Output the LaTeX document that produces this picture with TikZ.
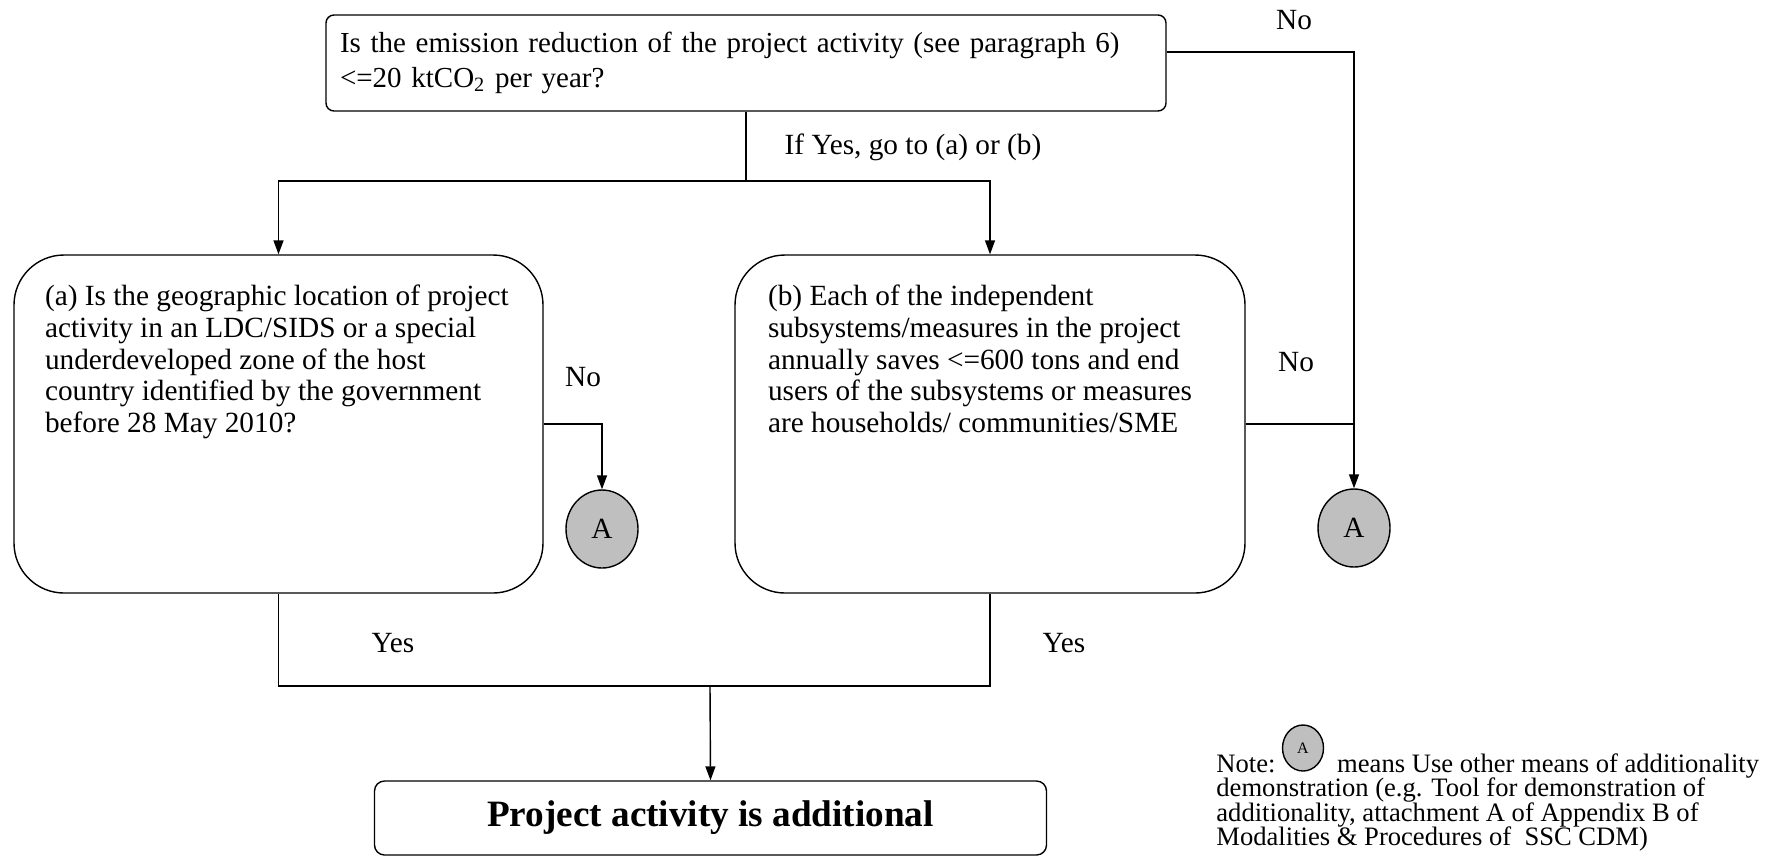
\documentclass[tikz,border=0pt]{standalone}
\usepackage{fontspec}
\setmainfont{Liberation Serif}
\usetikzlibrary{arrows.meta, shapes.geometric}

\begin{document}
\begin{tikzpicture}[
    x=0.5pt, y=-0.5pt,
    every node/.style={font=\fontsize{14.65}{15.85}\selectfont, inner sep=0pt},
    question/.style={draw, rounded corners=4pt, line width=0.7pt, inner xsep=7pt, text width=406pt, minimum height=48pt, align=left, font=\fontsize{14.5}{17.5}\selectfont},
    decision/.style={draw, rounded corners=25pt, line width=0.7pt, inner ysep=15pt},
    connector/.style={draw, ellipse, fill=gray!50, line width=0.7pt, minimum width=36pt, minimum height=39pt},
    result/.style={draw, rounded corners=5pt, line width=0.7pt, minimum width=336pt, minimum height=37pt, font=\fontsize{18.6}{21}\selectfont\bfseries},
    flow/.style={line width=0.7pt},
    arrow/.style={flow, -{Triangle[length=7pt, width=5pt]}}
    ]
  \useasboundingbox (0,0) rectangle (1775,864);

  % questions
  \node[question] (topq) at (746,63) {Is the emission reduction of the project activity (see paragraph 6)\\
    <=20 ktCO\textsubscript{2} per year?};
  \node[decision, inner xsep=15.5pt] (boxa) at (278.5,424) {\parbox[c][139pt][t]{233.5pt}{\raggedright
    (a) Is the geographic location of project\\
    activity in an LDC/SIDS or a special\\
    underdeveloped zone of the host\\
    country identified by the government\\
    before 28 May 2010?}};
  \node[decision, inner xsep=16.5pt] (boxb) at (990,424) {\parbox[c][139pt][t]{222pt}{\raggedright
    (b) Each of the independent\\
    subsystems/measures in the project\\
    annually saves <=600 tons and end\\
    users of the subsystems or measures\\
    are households/ communities/SME}};

  % connectors and result
  \node[connector] (circA) at (602,529) {A};
  \node[connector] (circB) at (1354,528) {A};
  \node[result] (final) at (710.5,818) {Project activity is additional};

  % branches
  \coordinate (split) at (746,181);
  \coordinate (noTop) at (1354,52);
  \coordinate (merge) at (710,686);
  \draw[flow] (topq.south) -- (split);
  \draw[arrow] (split) -| (boxa.north);
  \draw[arrow] (split) -| (boxb.north);
  \draw[arrow] (topq.east |- noTop) -| (circB.north);
  \draw[arrow] (boxa.east) -| (circA.north);
  \draw[flow] (boxb.east) -- (boxb.east -| circB);
  \draw[flow] (boxa.south) |- (merge) -| (boxb.south);
  \draw[arrow] (merge) -- (final.north);

  % labels
  \node (lblNoTop) at (1294,20) {No};
  \node (lblIfYes) at (913,147) {If Yes, go to (a) or (b)};
  \node (lblNoA) at (583,377) {No};
  \node (lblNoB) at (1296,362) {No};
  \node (lblYesA) at (393,643) {Yes};
  \node (lblYesB) at (1064,643) {Yes};

  % note
  \node[anchor=north west, align=left, font=\fontsize{13.3}{12.3}\selectfont] (note) at (1216,753) {Note: \hspace{22pt} means Use other means of additionality\\
    demonstration (e.g. Tool for demonstration of\\
    additionality, attachment A of Appendix B of\\
    Modalities \& Procedures of~ SSC CDM)};
  \node[connector, minimum width=20.5pt, minimum height=23pt, font=\fontsize{8}{9}\selectfont] (noteA) at (1303,748) {A};
\end{tikzpicture}
\end{document}
